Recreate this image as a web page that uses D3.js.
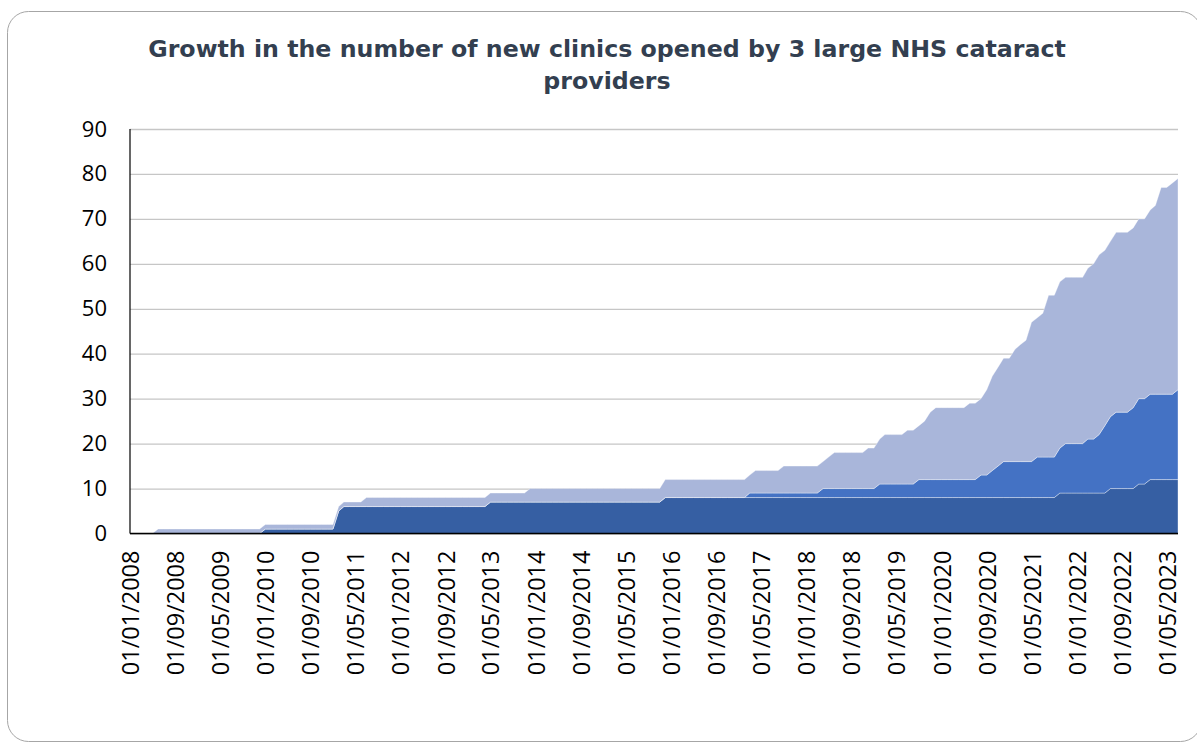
<!-- HTML -->
<!-- ---- -->
<!DOCTYPE html>
<html>
<head>
<meta charset="utf-8">
<style>
	body { margin: 0; background: #ffffff; }
	#vis-clinics { width: 1197px; height: 744px; }
</style>
</head>
<body>

<div class='vis' id='vis-clinics'></div>

<!-- Imports -->
<script src="https://d3js.org/d3.v7.min.js"></script>

<!-- Code -->
<script>

	// Data //
	// ---- //

	// monthly categories, first and last month of the series
	let firstMonth = "01/01/2008";
	let lastMonth = "01/07/2023";

	// x-axis labels shown on the chart
	let tickLabels = [
		"01/01/2008", "01/09/2008", "01/05/2009", "01/01/2010", "01/09/2010", "01/05/2011",
		"01/01/2012", "01/09/2012", "01/05/2013", "01/01/2014", "01/09/2014", "01/05/2015",
		"01/01/2016", "01/09/2016", "01/05/2017", "01/01/2018", "01/09/2018", "01/05/2019",
		"01/01/2020", "01/09/2020", "01/05/2021", "01/01/2022", "01/09/2022", "01/05/2023"
	];

	let yTicks = [0, 10, 20, 30, 40, 50, 60, 70, 80, 90];

	// new clinics per provider, one row per year (Jan..Dec)
	let provider1 = [
		0, 0, 0, 0, 0, 0, 0, 0, 0, 0, 0, 0,
		0, 0, 0, 0, 0, 0, 0, 0, 0, 0, 0, 0,
		1, 1, 1, 1, 1, 1, 1, 1, 1, 1, 1, 1,
		1, 5, 6, 6, 6, 6, 6, 6, 6, 6, 6, 6,
		6, 6, 6, 6, 6, 6, 6, 6, 6, 6, 6, 6,
		6, 6, 6, 6, 7, 7, 7, 7, 7, 7, 7, 7,
		7, 7, 7, 7, 7, 7, 7, 7, 7, 7, 7, 7,
		7, 7, 7, 7, 7, 7, 7, 7, 7, 7, 7, 8,
		8, 8, 8, 8, 8, 8, 8, 8, 8, 8, 8, 8,
		8, 8, 8, 8, 8, 8, 8, 8, 8, 8, 8, 8,
		8, 8, 8, 8, 8, 8, 8, 8, 8, 8, 8, 8,
		8, 8, 8, 8, 8, 8, 8, 8, 8, 8, 8, 8,
		8, 8, 8, 8, 8, 8, 8, 8, 8, 8, 8, 8,
		8, 8, 8, 8, 8, 8, 8, 8, 8, 9, 9, 9,
		9, 9, 9, 9, 9, 9, 10, 10, 10, 10, 10, 11,
		11, 12, 12, 12, 12, 12, 12
	];

	let provider2 = [
		0, 0, 0, 0, 0, 0, 0, 0, 0, 0, 0, 0,
		0, 0, 0, 0, 0, 0, 0, 0, 0, 0, 0, 0,
		0, 0, 0, 0, 0, 0, 0, 0, 0, 0, 0, 0,
		0, 0, 0, 0, 0, 0, 0, 0, 0, 0, 0, 0,
		0, 0, 0, 0, 0, 0, 0, 0, 0, 0, 0, 0,
		0, 0, 0, 0, 0, 0, 0, 0, 0, 0, 0, 0,
		0, 0, 0, 0, 0, 0, 0, 0, 0, 0, 0, 0,
		0, 0, 0, 0, 0, 0, 0, 0, 0, 0, 0, 0,
		0, 0, 0, 0, 0, 0, 0, 0, 0, 0, 0, 0,
		0, 0, 1, 1, 1, 1, 1, 1, 1, 1, 1, 1,
		1, 1, 1, 2, 2, 2, 2, 2, 2, 2, 2, 2,
		2, 3, 3, 3, 3, 3, 3, 3, 4, 4, 4, 4,
		4, 4, 4, 4, 4, 4, 4, 5, 5, 6, 7, 8,
		8, 8, 8, 8, 8, 9, 9, 9, 9, 10, 11, 11,
		11, 11, 12, 12, 13, 15, 16, 17, 17, 17, 18, 19,
		19, 19, 19, 19, 19, 19, 20
	];

	let provider3 = [
		0, 0, 0, 0, 0, 1, 1, 1, 1, 1, 1, 1,
		1, 1, 1, 1, 1, 1, 1, 1, 1, 1, 1, 1,
		1, 1, 1, 1, 1, 1, 1, 1, 1, 1, 1, 1,
		1, 1, 1, 1, 1, 1, 2, 2, 2, 2, 2, 2,
		2, 2, 2, 2, 2, 2, 2, 2, 2, 2, 2, 2,
		2, 2, 2, 2, 2, 2, 2, 2, 2, 2, 2, 3,
		3, 3, 3, 3, 3, 3, 3, 3, 3, 3, 3, 3,
		3, 3, 3, 3, 3, 3, 3, 3, 3, 3, 3, 4,
		4, 4, 4, 4, 4, 4, 4, 4, 4, 4, 4, 4,
		4, 4, 4, 5, 5, 5, 5, 5, 6, 6, 6, 6,
		6, 6, 6, 6, 7, 8, 8, 8, 8, 8, 8, 9,
		9, 10, 11, 11, 11, 11, 12, 12, 12, 13, 15, 16,
		16, 16, 16, 16, 16, 17, 17, 17, 19, 21, 22, 23,
		23, 25, 26, 27, 31, 31, 32, 36, 36, 37, 37, 37,
		37, 37, 38, 39, 40, 39, 39, 40, 40, 40, 40, 40,
		40, 41, 42, 46, 46, 47, 47
	];

	let seriesKeys = ["provider1", "provider2", "provider3"];
	let seriesColors = ["#365fa3", "#4472c4", "#a9b6da"];

	let titleLines = [
		"Growth in the number of new clinics opened by 3 large NHS cataract",
		"providers"
	];


	function clinicsvis() {

		// ----- //
		// Setup //
		// ----- //

		let W = 1197, H = 744;
		let margin_ = {top: 129, right: 19, bottom: 210.5, left: 130},
			width = W - margin_.left - margin_.right,
			height = H - margin_.top - margin_.bottom;

		let svg0 = d3.select("#vis-clinics")
			.append("svg")
				.attr("width", W)
				.attr("height", H);

		// card frame
		svg0.append("rect")
			.attr("x", 7.5)
			.attr("y", 11.5)
			.attr("width", 1194)
			.attr("height", 730)
			.attr("rx", 21)
			.attr("fill", "#ffffff")
			.attr("stroke", "#a6a6a6")
			.attr("stroke-width", 1);

		// title
		svg0.append("text")
			.attr("x", 607)
			.attr("y", 57)
			.attr("text-anchor", "middle")
			.style("font-family", "'DejaVu Sans', Verdana, sans-serif")
			.style("font-weight", "bold")
			.style("font-size", "23.7px")
			.style("fill", "#333f50")
			.selectAll("tspan")
			.data(titleLines)
			.enter().append("tspan")
				.attr("x", 607)
				.attr("dy", (d, i) => i === 0 ? 0 : 32)
				.text(d => d);

		let svg = svg0.append("g")
			.attr("transform", "translate(" + margin_.left + "," + margin_.top + ")");

		// Scales
		let parseDate = d3.timeParse("%d/%m/%Y");
		let months = d3.timeMonth.range(parseDate(firstMonth), d3.timeMonth.offset(parseDate(lastMonth), 1));

		let x = d3.scaleTime().domain([months[0], months[months.length - 1]]).range([0, width]);
		let y = d3.scaleLinear().domain([0, 90]).range([height, 0]);

		// Table for the stack
		let table = months.map((d, i) => ({
			date: d,
			provider1: provider1[i],
			provider2: provider2[i],
			provider3: provider3[i]
		}));

		let stacked = d3.stack().keys(seriesKeys)(table);

		// Gridlines + y labels
		let yAxis = svg.append("g")
			.call(d3.axisLeft(y).tickValues(yTicks).tickSize(-width).tickSizeOuter(0).tickPadding(23));
		yAxis.select(".domain").remove();
		yAxis.selectAll(".tick line")
			.attr("stroke", "#c6c6c6")
			.attr("stroke-width", 1.3);
		yAxis.selectAll(".tick text")
			.style("font-family", "'Open Sans', sans-serif")
			.style("font-size", "22px")
			.style("fill", "#000000");

		// Areas
		let area = d3.area()
			.x(d => x(d.data.date))
			.y0(d => y(d[0]))
			.y1(d => y(d[1]));

		svg.selectAll(".layer")
			.data(stacked)
			.enter().append("path")
				.attr("class", "layer")
				.attr("d", area)
				.style("fill", (d, i) => seriesColors[i])
				.style("stroke", "#ffffff")
				.style("stroke-opacity", 0.45)
				.style("stroke-width", 0.8);

		// Axis lines
		svg.append("line")
			.attr("x1", 0).attr("x2", 0)
			.attr("y1", 0).attr("y2", height)
			.attr("stroke", "#000000")
			.attr("stroke-width", 1.2);

		svg.append("line")
			.attr("x1", 0).attr("x2", width)
			.attr("y1", height).attr("y2", height)
			.attr("stroke", "#000000")
			.attr("stroke-width", 1.5);

		// X labels
		let xAxis = svg.append("g")
			.attr("transform", "translate(0," + height + ")")
			.call(d3.axisBottom(x)
				.tickValues(tickLabels.map(parseDate))
				.tickFormat(d3.timeFormat("%d/%m/%Y"))
				.tickSize(0));
		xAxis.select(".domain").remove();
		xAxis.selectAll(".tick text")
			.attr("transform", "rotate(-90)")
			.attr("x", -17)
			.attr("y", 0)
			.attr("dy", "0.36em")
			.attr("text-anchor", "end")
			.style("font-family", "'Open Sans', sans-serif")
			.style("font-size", "23.5px")
			.style("fill", "#000000");
	}

	let instance_clinics = clinicsvis()
</script>
</body>
</html>
